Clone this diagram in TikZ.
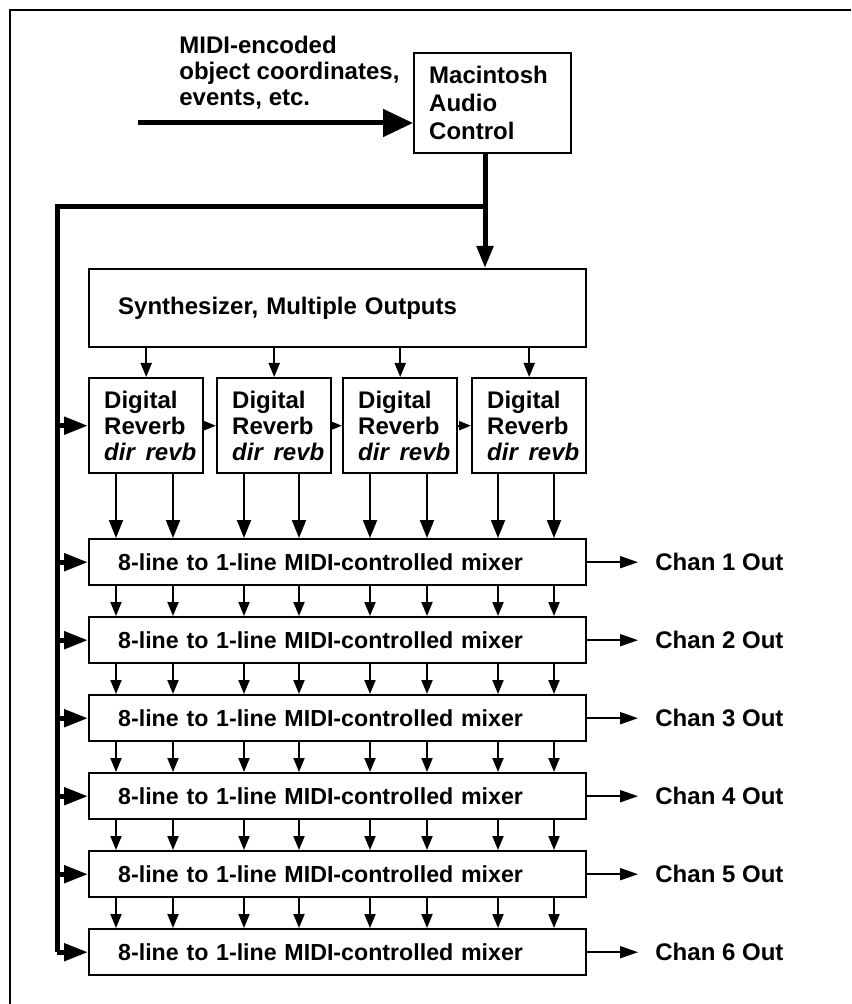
\documentclass[tikz,border=0pt]{standalone}
\usepackage{fontspec}
\setmainfont{Liberation Sans}
\usetikzlibrary{arrows.meta,calc}

\tikzset{
  box/.style={draw, line width=1.2pt, align=left, anchor=north west,
    font=\bfseries\fontsize{12}{13}\selectfont},
  macbox/.style={box, text width=63.5pt, inner xsep=7.5pt, minimum height=50pt,
    font=\bfseries\fontsize{12}{14}\selectfont},
  synthbox/.style={box, text width=219.5pt, inner xsep=14.5pt, minimum height=39pt},
  revbox/.style={box, text width=42pt, inner xsep=7.5pt, minimum height=47.5pt},
  mixbox/.style={box, text width=219.5pt, inner xsep=14.5pt, minimum height=23pt,
    font=\bfseries\fontsize{11.6}{13}\selectfont},
  chan/.style={anchor=west, inner sep=0pt, font=\bfseries\fontsize{12}{13}\selectfont},
  bigline/.style={line width=2.5pt},
  inarrow/.style={bigline, -{Triangle[length=15pt,width=13.5pt]}},
  downarrow/.style={bigline, -{Triangle[length=11pt,width=8pt]}},
  busarrow/.style={bigline, -{Triangle[length=12pt,width=8.5pt]}},
  thinarrow/.style={line width=1pt, -{Triangle[length=7pt,width=5.5pt]}},
  revarrow/.style={line width=1pt, -{Triangle[length=9pt,width=7pt]}},
  chainarrow/.style={line width=1pt, -{Triangle[length=6pt,width=4.5pt]}},
  chanarrow/.style={line width=1pt, -{Triangle[length=9pt,width=6pt]}, shorten >=8.5pt}
}

\begin{document}
\begin{tikzpicture}[x=0.5pt, y=-0.5pt]
  \useasboundingbox (0,0) rectangle (851,1004);
  % frame
  \draw[line width=1pt] (851,10) -- (10,10) -- (10,1004);

  % control input
  \node[anchor=north west, inner sep=0pt, align=left,
    font=\bfseries\fontsize{12}{13}\selectfont] (midi) at (179,36)
    {MIDI-encoded\\object coordinates,\\events, etc.};
  \node[macbox] (mac) at (413,52) {Macintosh\\Audio\\Control};
  \coordinate (inp) at (138,123);
  \draw[inarrow] (inp) -- (inp -| mac.west);

  % synth and reverbs
  \node[synthbox] (synth) at (88,268) {Synthesizer, Multiple Outputs};
  \foreach \r/\xx in {1/88, 2/216, 3/342, 4/471} {
    \node[revbox] (rev\r) at (\xx,377) {Digital\\Reverb\\\mbox{\itshape dir\hspace{0.45em}revb}};
    \draw[thinarrow] (rev\r.north |- synth.south) -- (rev\r.north);
  }
  \foreach \r [count=\s from 2] in {1,2,3}
    \draw[chainarrow] (rev\r.east) -- (rev\s.west);

  % mixers and outputs
  \coordinate (chanx) at (655,0);
  \foreach \i in {1,...,6} {
    \node[mixbox] (mix\i) at (88,{538+78*(\i-1)}) {8-line to 1-line MIDI-controlled mixer};
    \node[chan] (out\i) at (mix\i.east -| chanx) {Chan \i\ Out};
    \draw[chanarrow] (mix\i.east) -- (out\i.west);
  }
  \foreach \x/\r in {116/1, 173/1, 244/2, 299/2, 370/3, 427/3, 498/4, 554/4} {
    \coordinate (tip\x) at ($(mix1.north west)+(\x-88,0)$);
    \draw[revarrow] (tip\x |- rev\r.south) -- (tip\x);
  }
  \foreach \i [count=\j from 2] in {1,...,5}
    \foreach \x in {116,173,244,299,370,427,498,554}
      \draw[thinarrow] ($(mix\i.south west)+(\x-88,0)$) -- ($(mix\j.north west)+(\x-88,0)$);

  % control bus
  \coordinate (junc) at (485,207);
  \coordinate (busx) at (57,0);
  \draw[downarrow] (mac.south -| junc) -- (synth.north -| junc);
  \draw[bigline] (junc) -- (junc -| busx) -- (busx |- mix6.west);
  \draw[busarrow] (busx |- rev1.west) -- (rev1.west);
  \foreach \i in {1,...,6}
    \draw[busarrow] (busx |- mix\i.west) -- (mix\i.west);
\end{tikzpicture}
\end{document}
